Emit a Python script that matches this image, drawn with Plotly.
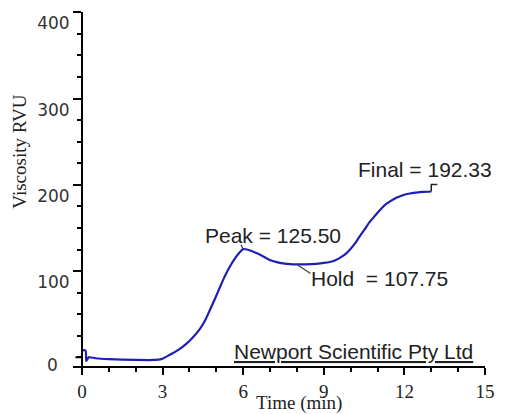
import plotly.graph_objects as go

# RVA pasting profile
time_min = [0.0, 0.13, 0.16, 0.25, 0.5, 1.0, 2.0, 2.7, 2.95, 3.27, 3.6, 3.89, 4.15,
            4.39, 4.6, 4.76, 4.95, 5.13, 5.3, 5.5, 5.7, 5.85, 6.0, 6.2, 6.49, 6.75,
            6.99, 7.25, 7.48, 7.75, 8.0, 8.3, 8.72, 9.0, 9.34, 9.55, 9.78, 9.96,
            10.15, 10.33, 10.52, 10.71, 10.9, 11.08, 11.25, 11.45, 11.7, 11.94,
            12.2, 12.44, 12.7, 13.0]
viscosity = [8, 8, -4, 0, -1, -2, -3, -3, -2, 3, 9, 16, 24,
             33, 44, 55, 68, 81, 93, 105, 115, 121, 125.5, 124.5, 121, 117,
             113, 110.5, 109, 108, 107.75, 107.8, 108.5, 109.5, 111.5, 114.5, 119, 124.5,
             131.5, 140, 148.5, 157, 164, 170.5, 176, 180.5, 185, 188,
             190, 191, 191.8, 192.33]

y_ticks = [100, 200, 300, 400]
x_ticks = [0, 3, 6, 9, 12, 15]

peak = (6.0, 125.50)
hold = (8.0, 107.75)
final = (13.0, 192.33)

x_range = [-0.335, 15]
y_range = [-10, 400.4]

ink = "#222222"
serif = "Liberation Serif, Times New Roman, serif"
sans = "Liberation Sans, Arial, sans-serif"
tick_sans = "DejaVu Sans, Verdana, sans-serif"

fig = go.Figure()
fig.add_trace(go.Scatter(
    x=time_min, y=viscosity, mode="lines",
    line=dict(color="#1f1fb4", width=2.2, shape="spline", smoothing=0.8),
    hoverinfo="skip", showlegend=False,
))

fig.update_layout(
    width=511, height=414,
    margin=dict(l=73, r=26, t=12, b=42),
    paper_bgcolor="white", plot_bgcolor="white",
    xaxis=dict(
        range=x_range, domain=[0, 1], tickvals=x_ticks,
        ticks="outside", ticklen=7, tickwidth=2, tickcolor="black",
        minor=dict(dtick=1, tick0=0, ticks="outside", ticklen=4, tickwidth=2, tickcolor="black"),
        showline=True, linecolor="black", linewidth=2,
        showgrid=False, zeroline=False,
        tickfont=dict(family=serif, size=19, color=ink),
    ),
    yaxis=dict(
        range=y_range, anchor="free",
        position=(0 - x_range[0]) / (x_range[1] - x_range[0]),
        tickvals=y_ticks,
        ticks="outside", ticklen=8, tickwidth=2, tickcolor="black",
        minor=dict(dtick=25, tick0=0, ticks="outside", ticklen=4, tickwidth=2, tickcolor="black"),
        showline=True, linecolor="black", linewidth=2,
        showgrid=False, zeroline=False,
        tickfont=dict(family=tick_sans, size=17, color="#333333"),
        ticklabelshift=11,
    ),
)

# extra major tick at zero on the viscosity axis, with its label set apart
fig.add_annotation(x=0, y=0, xref="x", yref="y", text="", showarrow=True,
                   arrowhead=0, arrowwidth=2, arrowcolor="black", ax=-8, ay=0)
fig.add_annotation(x=-0.049, y=0.004, xref="paper", yref="paper", text="0",
                   showarrow=False, xanchor="center", yanchor="middle",
                   font=dict(family=tick_sans, size=17, color="#333333"))

# axis titles
fig.add_annotation(x=-0.1286, y=0.6056, xref="paper", yref="paper", text="Viscosity RVU",
                   textangle=-90, showarrow=False, xanchor="center", yanchor="middle",
                   font=dict(family=serif, size=19, color=ink))
fig.add_annotation(x=0.5485, y=-0.1417, xref="paper", yref="paper", text="Time (min)",
                   showarrow=False, xanchor="center", yanchor="bottom",
                   font=dict(family=serif, size=19, color=ink))

label_font = dict(family=sans, size=21, color=ink)
lead = dict(showarrow=True, arrowhead=0, arrowwidth=1.2, arrowcolor="#444444", text="")

# Peak
fig.add_annotation(x=peak[0], y=peak[1], xref="x", yref="y", ax=-3, ay=-6, **lead)
fig.add_annotation(x=peak[0], y=peak[1], xref="x", yref="y",
                   text=f"Peak = {peak[1]:.2f}", showarrow=False,
                   xanchor="center", yanchor="middle", xshift=30, yshift=14, font=label_font)
# Hold
fig.add_annotation(x=hold[0], y=hold[1], xref="x", yref="y", ax=15, ay=10, **lead)
fig.add_annotation(x=hold[0], y=hold[1], xref="x", yref="y",
                   text=f"Hold  = {hold[1]:.2f}", showarrow=False,
                   xanchor="center", yanchor="middle", xshift=83, yshift=-14, font=label_font)
# Final
fig.add_shape(type="path", xref="x", yref="y", xsizemode="pixel", ysizemode="pixel",
              xanchor=final[0], yanchor=final[1], path="M 0 0 L 0 7 L 6 7",
              line=dict(color="#222222", width=1.5))
fig.add_annotation(x=final[0], y=final[1], xref="x", yref="y",
                   text=f"Final = {final[1]:.2f}", showarrow=False,
                   xanchor="center", yanchor="middle", xshift=-6, yshift=22, font=label_font)

# instrument maker's tag
fig.add_annotation(x=0.682, y=0.042, xref="paper", yref="paper",
                   text="<u>Newport Scientific Pty Ltd</u>", showarrow=False,
                   xanchor="center", yanchor="middle", font=label_font)

fig.write_html("out.html")
